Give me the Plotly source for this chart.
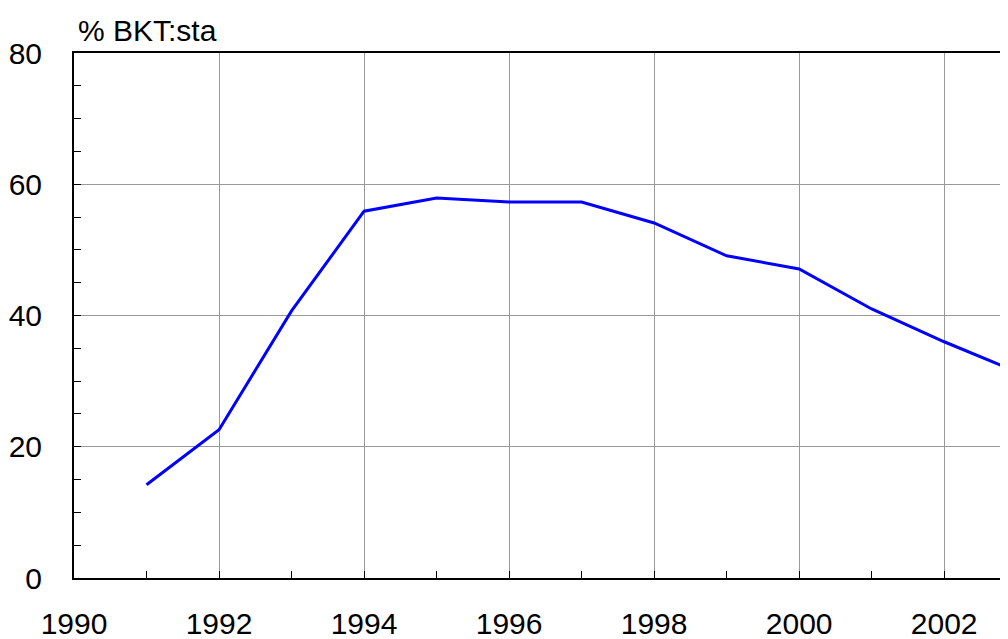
import plotly.graph_objects as go

years = [1991, 1992, 1993, 1994, 1995, 1996, 1997, 1998, 1999, 2000, 2001, 2002, 2003]
values = [14.2, 22.6, 40.7, 55.9, 57.9, 57.3, 57.3, 54.1, 49.1, 47.1, 41.0, 36.0, 31.4]
y_label = "% BKT:sta"

fig = go.Figure()
fig.add_trace(go.Scatter(x=years, y=values, mode="lines",
                         line=dict(color="#0000ff", width=3), showlegend=False,
                         cliponaxis=True))

font = dict(family="Liberation Sans, Arial, sans-serif", size=30, color="black")

fig.update_layout(
    width=1000, height=631,
    margin=dict(l=66, r=0, t=45, b=61),
    paper_bgcolor="white", plot_bgcolor="white",
    font=font,
    xaxis=dict(range=[1990, 2002.88], dtick=2, tick0=1990, showgrid=True,
               gridcolor="#999999", gridwidth=1, ticks="inside", ticklen=7,
               tickcolor="black", showline=True, linecolor="black", linewidth=2,
               mirror=True, zeroline=False, tickfont=font, ticklabelstandoff=18,
               minor=dict(dtick=1, tick0=1990, ticks="inside", ticklen=7,
                          tickcolor="black", showgrid=False)),
    yaxis=dict(range=[0, 80], dtick=20, showgrid=True, gridcolor="#999999",
               gridwidth=1, ticks="inside", ticklen=7, tickcolor="black",
               showline=True, linecolor="black", linewidth=2, zeroline=False,
               tickfont=font, ticklabelstandoff=24,
               minor=dict(dtick=5, ticks="inside", ticklen=7,
                          tickcolor="black", showgrid=False)),
    annotations=[dict(text=y_label, xref="paper", yref="paper", x=0.0, y=1.0,
                      xanchor="left", yanchor="bottom", xshift=2, yshift=4,
                      showarrow=False, font=font)],
)

fig.write_html("out.html")
